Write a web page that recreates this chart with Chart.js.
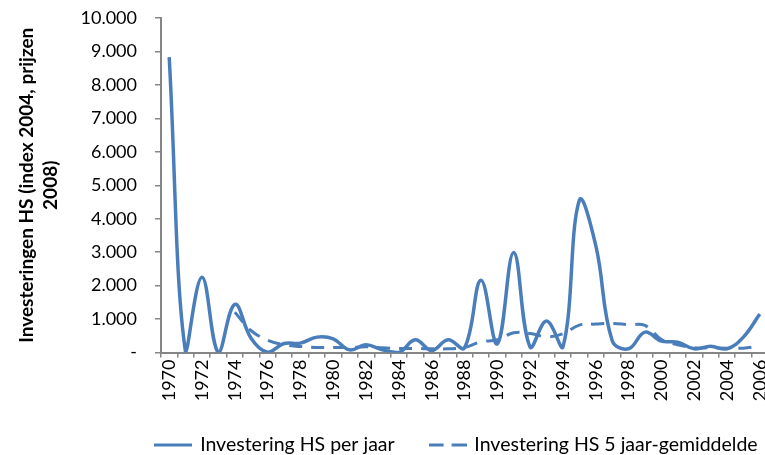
<!DOCTYPE html>
<html>
<head>
<meta charset="utf-8">
<script src="https://cdn.jsdelivr.net/npm/chart.js@4/dist/chart.umd.min.js"></script>
<style>
html,body{margin:0;padding:0;overflow:hidden;background:#fff;width:765px;height:455px;}
#wrap{position:absolute;left:0;top:0;}
</style>
</head>
<body>
<div id="wrap"><canvas id="c" width="914" height="468"></canvas></div>
<script>
const years = ['1970','1971','1972','1973','1974','1975','1976','1977','1978','1979',
  '1980','1981','1982','1983','1984','1985','1986','1987','1988','1989',
  '1990','1991','1992','1993','1994','1995','1996','1997','1998','1999',
  '2000','2001','2002','2003','2004','2005','2006'];
const perJaar = [8830, 0, 2250, 0, 1440, 420, 10, 270, 280, 460,
  410, 80, 230, 80, 0, 380, 60, 380, 140, 2160,
  260, 2990, 160, 940, 160, 4550, 3200, 360, 110, 610,
  340, 310, 110, 190, 110, 460, 1150];
const vijfJaarGem = [null, null, null, null, 1200, 650, 370, 230, 180, 150,
  150, 150, 170, 140, 120, 120, 110, 110, 150, 320,
  380, 590, 570, 470, 560, 820, 850, 870, 830, 810,
  390, 230, 140, 140, 130, 130, 190];
const seriesNames = ['Investering HS per jaar', 'Investering HS 5 jaar-gemiddelde'];
const yTitle = ['Investeringen HS (index 2004, prijzen', '2008)'];

const blue = '#4A7EBB';
const axisGrey = '#868686';
const fontFam = 'Lato, Carlito, "Open Sans", sans-serif';

function fmt(v) {
  if (v === 0) return '-';
  return String(v).replace(/\B(?=(\d{3})+(?!\d))/g, '.');
}

// legend line samples drawn as small images (used as point style in the legend only)
function sample(dash, lw) {
  const c = document.createElement('canvas');
  c.width = 38; c.height = 6;
  const g = c.getContext('2d');
  g.strokeStyle = blue; g.lineWidth = lw;
  g.setLineDash(dash);
  g.beginPath(); g.moveTo(0, 3); g.lineTo(38, 3); g.stroke();
  return c;
}

const W = 914;
const legendPad = 36;
const legendShift = {
  id: 'legendShift',
  afterLayout(chart) {
    const l = chart.legend;
    if (!l) return;
    const target = 445 - legendPad - l.options.labels.font.size / 2;
    const dy = target - l.top;
    l.top += dy; l.bottom += dy;
  }
};

new Chart(document.getElementById('c'), {
  type: 'line',
  data: {
    labels: years,
    datasets: [
      {
        label: seriesNames[0], data: perJaar,
        borderColor: blue, backgroundColor: blue, borderWidth: 3.5,
        tension: 0.4, pointRadius: 0, pointStyle: sample([], 3), fill: false
      },
      {
        label: seriesNames[1], data: vijfJaarGem,
        borderColor: blue, backgroundColor: blue, borderWidth: 3,
        borderDash: [13, 9], tension: 0.4, pointRadius: 0, pointStyle: sample([15, 8], 3),
        fill: false, spanGaps: false
      }
    ]
  },
  plugins: [legendShift],
  options: {
    responsive: false, animation: false, devicePixelRatio: 1,
    layout: { padding: { top: 18, left: 0, right: 0, bottom: 0 } },
    plugins: {
      tooltip: { enabled: false },
      legend: {
        position: 'bottom',
        labels: {
          usePointStyle: true, pointStyleWidth: 34,
          padding: legendPad, color: '#000',
          font: { family: fontFam, size: 19.5 }
        }
      }
    },
    scales: {
      x: {
        type: 'category', offset: true,
        grid: { offset: true, drawOnChartArea: false, drawTicks: true, tickLength: 5, color: axisGrey, lineWidth: 1.5 },
        border: { color: axisGrey, width: 2 },
        ticks: {
          autoSkip: false, maxRotation: 90, minRotation: 90, padding: 2, color: '#000',
          font: { family: fontFam, size: 18 },
          callback: (v, i) => (i % 2 === 0 ? years[i] : '')
        },
        afterFit: s => { s.height = 50; s.paddingRight = 0; s.paddingLeft = 0; }
      },
      y: {
        position: 'left', min: 0, max: 10000,
        grid: { drawOnChartArea: false, drawTicks: true, tickLength: 6, color: axisGrey, lineWidth: 1.5 },
        border: { color: axisGrey, width: 2 },
        ticks: {
          stepSize: 1000, padding: 18, color: '#000',
          font: { family: fontFam, size: 18 },
          callback: v => fmt(v)
        },
        title: {
          display: true, text: yTitle, color: '#000',
          font: { family: fontFam, size: 19, weight: 'bold', lineHeight: 1.25 },
          padding: { top: 15, bottom: 0 }
        },
        afterFit: s => { s.width = 161; s.paddingTop = 0; s.paddingBottom = 0; }
      },
      yRight: {
        position: 'right', display: true,
        grid: { display: false }, border: { display: false },
        ticks: { display: false },
        afterFit: s => { s.width = W - 768; s.paddingTop = 0; s.paddingBottom = 0; }
      }
    }
  }
});
</script>
</body>
</html>
